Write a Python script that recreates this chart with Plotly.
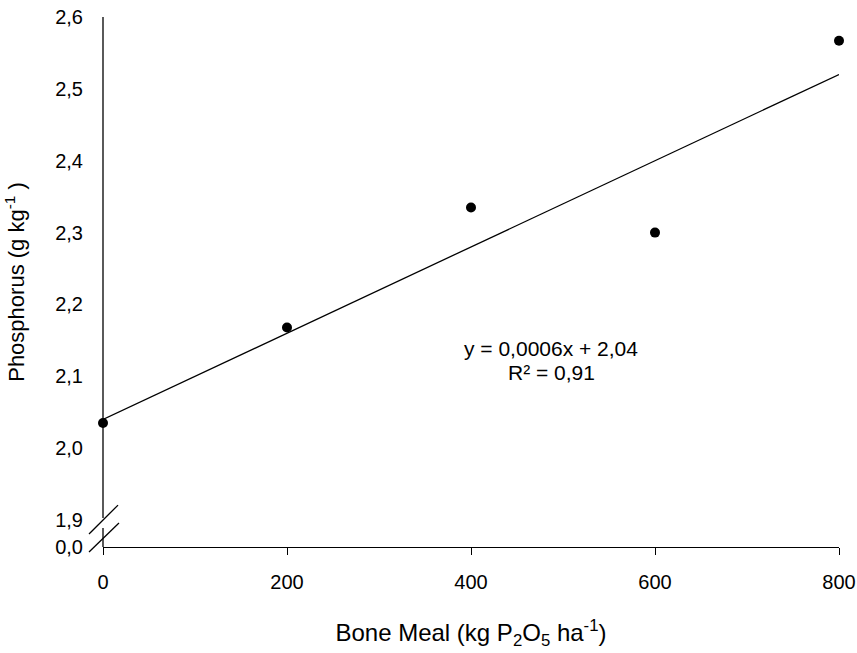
import plotly.graph_objects as go

# Data
bone_meal = [0, 200, 400, 600, 800]
phosphorus = [2.035, 2.168, 2.335, 2.300, 2.567]
fit_x = [0, 800]
slope, intercept = 0.0006, 2.04
fit_y = [slope * v + intercept for v in fit_x]

x_ticks = [0, 200, 400, 600, 800]
x_ticklabels = ["0", "200", "400", "600", "800"]
y_break_zero = 1.8625          # axis position standing for 0,0 (broken axis)
y_top = 2.6
y_label_vals = [y_break_zero, 1.9, 2.0, 2.1, 2.2, 2.3, 2.4, 2.5, 2.6]
y_label_text = ["0,0", "1,9", "2,0", "2,1", "2,2", "2,3", "2,4", "2,5", "2,6"]
y_tick_marks = [2.0, 2.1, 2.2, 2.3, 2.4, 2.5]

FONT = "Liberation Sans, Arial, sans-serif"
LW = 1.3
PLOT_W = 857 - 103 - 18
X_RANGE = [0, 800]
TICK_PX = 7


def yp(v):
    """value on the y axis -> paper fraction"""
    return (v - y_break_zero) / (y_top - y_break_zero)


fig = go.Figure()
fig.add_trace(go.Scatter(x=fit_x, y=fit_y, mode="lines",
                         line=dict(color="black", width=LW),
                         showlegend=False, hoverinfo="skip"))
fig.add_trace(go.Scatter(x=bone_meal, y=phosphorus, mode="markers",
                         marker=dict(color="black", size=10),
                         cliponaxis=False, showlegend=False))
# y tick marks on the upper (unbroken) segment only
tick_x = -(TICK_PX / 2) / PLOT_W * (X_RANGE[1] - X_RANGE[0])
fig.add_trace(go.Scatter(x=[tick_x] * len(y_tick_marks), y=y_tick_marks, mode="markers",
                         marker=dict(symbol="line-ew", size=TICK_PX,
                                     line=dict(color="black", width=LW)),
                         cliponaxis=False, showlegend=False, hoverinfo="skip"))

# y axis line with break
shapes = [
    dict(type="line", xref="paper", yref="paper", x0=0, x1=0, y0=1, y1=yp(1.903),
         line=dict(color="black", width=LW)),
    dict(type="line", xref="paper", yref="paper", x0=0, x1=0, y0=yp(1.889), y1=0,
         line=dict(color="black", width=LW)),
    dict(type="line", xref="paper", yref="paper", x0=-0.019, x1=0.0204,
         y0=yp(1.8806), y1=yp(1.9208), line=dict(color="black", width=LW)),
    dict(type="line", xref="paper", yref="paper", x0=-0.019, x1=0.0217,
         y0=yp(1.8556), y1=yp(1.8958), line=dict(color="black", width=LW)),
]

fig.update_layout(
    width=857, height=653,
    margin=dict(l=103, r=18, t=17, b=106),
    paper_bgcolor="white", plot_bgcolor="white",
    font=dict(family=FONT, size=20, color="black"),
    shapes=shapes,
    xaxis=dict(range=X_RANGE, tickvals=x_ticks, ticktext=x_ticklabels,
               ticks="outside", ticklen=TICK_PX, tickcolor="black", tickwidth=LW,
               showline=True, linecolor="black", linewidth=LW,
               showgrid=False, zeroline=False, ticklabelstandoff=10,
               automargin=False, tickfont=dict(size=20),
               title=dict(text="Bone Meal (kg P<sub>2</sub>O<sub>5</sub> ha<sup>-1</sup>)",
                          font=dict(size=24), standoff=32)),
    yaxis=dict(range=[y_break_zero, y_top], tickvals=y_label_vals, ticktext=y_label_text,
               ticks="outside", ticklen=TICK_PX, tickcolor="rgba(0,0,0,0)",
               showline=False, showgrid=False, zeroline=False,
               ticklabelstandoff=8, automargin=False, tickfont=dict(size=20),
               title=dict(text="Phosphorus (g kg<sup>-1</sup> )", font=dict(size=22),
                          standoff=24)),
    annotations=[
        dict(x=487, y=2.139, xref="x", yref="y", showarrow=False,
             text="y = 0,0006x + 2,04", font=dict(size=21)),
        dict(x=487, y=2.1056, xref="x", yref="y", showarrow=False,
             text="R² = 0,91", font=dict(size=21)),
    ],
)

fig.write_html("out.html", config={"displayModeBar": False},
               post_script="document.body.style.margin='0';document.body.style.overflow='hidden';")
